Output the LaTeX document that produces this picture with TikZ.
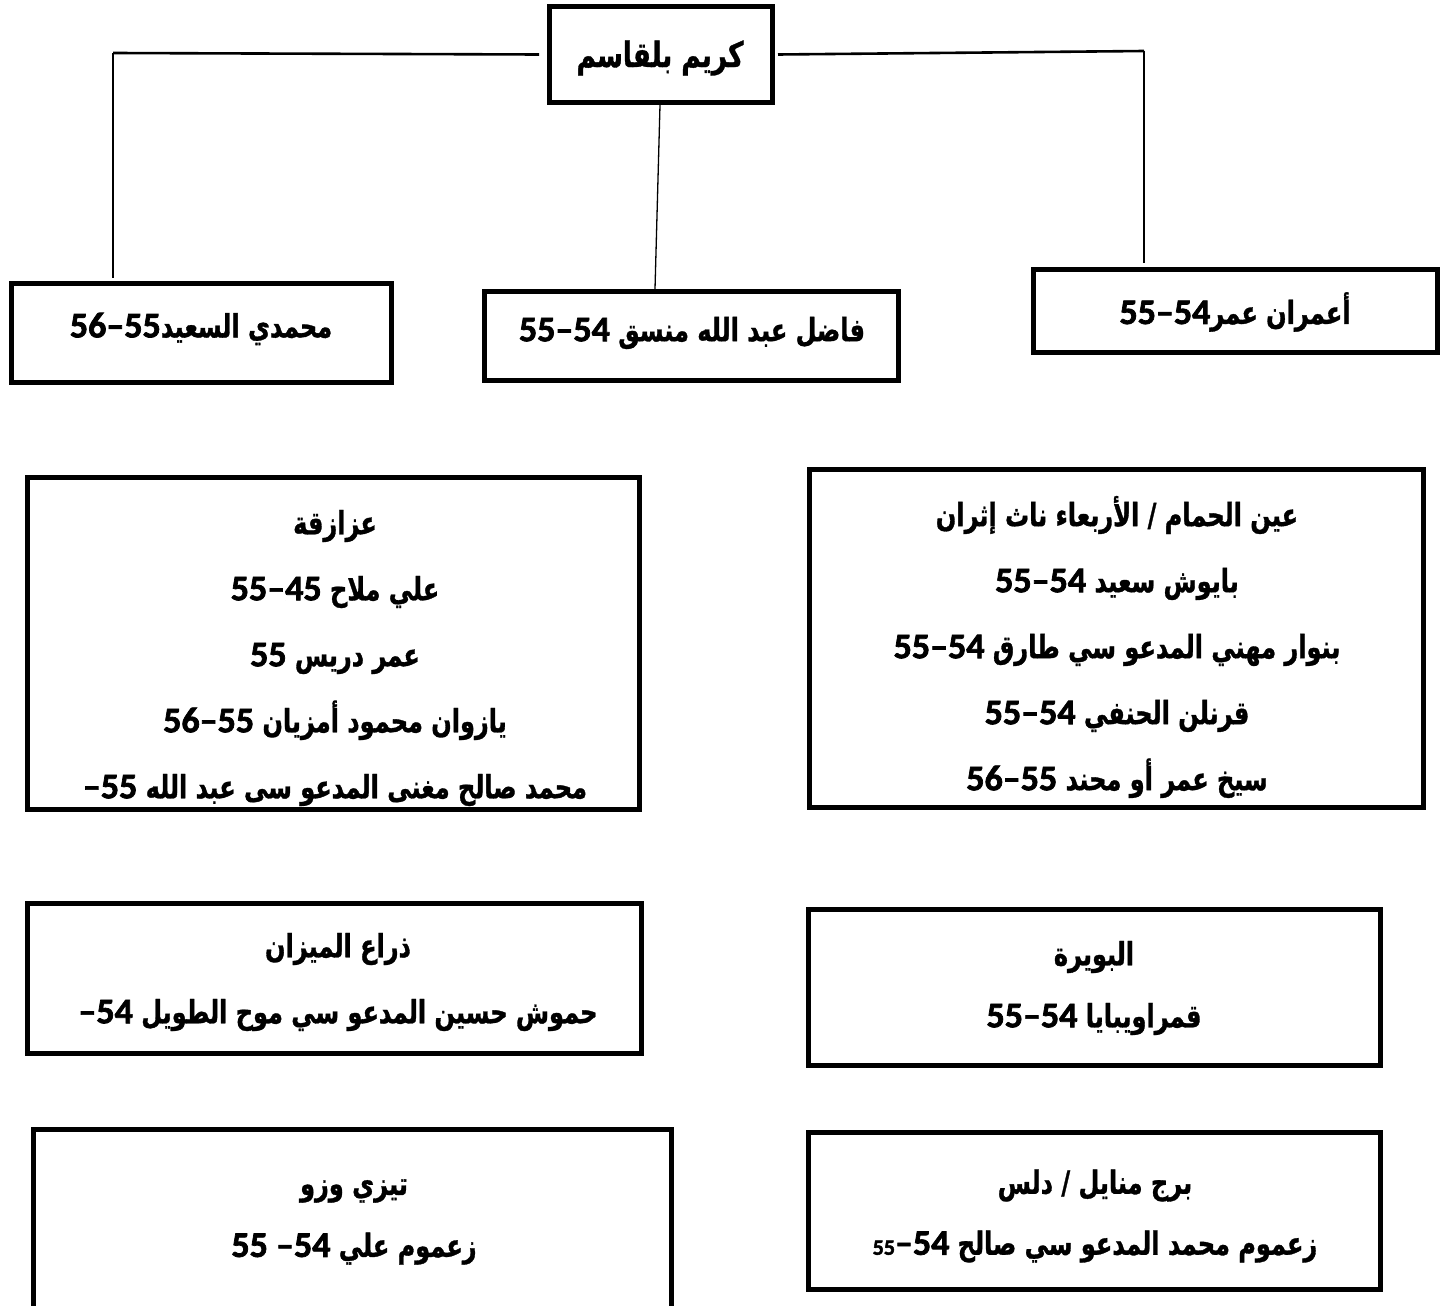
\documentclass[tikz,border=0pt]{standalone}
\usepackage{fontspec}
\TeXXeTstate=1
\newfontfamily\arabicfont[Script=Arabic,FakeStretch=0.75,FakeBold=1]{DejaVu Sans Bold}
\newfontfamily\digfont[FakeBold=2]{Carlito Bold}
\newcommand\rl[1]{\beginR#1\endR}
\newcommand\lt[1]{\beginL{\digfont\fontsize{36}{40}\selectfont #1}\endL{}}
\begin{document}
\begin{tikzpicture}[x=1pt,y=-1pt,
  box/.style={draw=black,line width=5pt,inner sep=0pt,rectangle},
  txt/.style={align=center,inner sep=0pt,font=\arabicfont\fontsize{32}{66}\selectfont},
  hconn/.style={draw=black,line width=2.6pt},
  vconn/.style={draw=black,line width=1.3pt}]
\useasboundingbox (0,0) rectangle (1444,1306);
% top row boxes
\node[box,minimum width=223pt,minimum height=96pt] (top) at (661,54.5) {};
\node[box,minimum width=380pt,minimum height=99pt] (b1) at (201.5,333) {};
\node[box,minimum width=414pt,minimum height=89pt] (b2) at (691.5,336) {};
\node[box,minimum width=404pt,minimum height=83pt] (b3) at (1235.5,311) {};
% lower boxes
\node[box,minimum width=612pt,minimum height=332pt] (c1) at (333.5,643.5) {};
\node[box,minimum width=614pt,minimum height=338pt] (c2) at (1116.5,638.5) {};
\node[box,minimum width=614pt,minimum height=150pt] (d1) at (334.5,978.5) {};
\node[box,minimum width=572pt,minimum height=156pt] (d2) at (1094.5,987.5) {};
\node[box,minimum width=638pt,minimum height=190pt] (e1) at (352.5,1224.75) {};
\node[box,minimum width=572pt,minimum height=157pt] (e2) at (1094.5,1211) {};
% texts
\node[txt,font=\arabicfont\fontsize{35}{66}\selectfont] (topt) at (660,58) {\rl{كريم بلقاسم}};
\node[txt] (b1t) at (201,329) {\rl{محمدي السعيد\lt{56–55}}};
\node[txt] (b2t) at (692,333) {\rl{فاضل عبد الله منسق \lt{55–54}}};
\node[txt] (b3t) at (1235,312) {\rl{أعمران عمر\lt{55–54}}};
\node[txt] (c1t) at (335,658) {\rl{عزازقة}\\
  \rl{علي ملاح \lt{55–45}}\\
  \rl{عمر دريس \lt{55}}\\
  \rl{يازوان محمود أمزيان \lt{56–55}}\\
  \rl{محمد صالح مغنى المدعو سى عبد الله \lt{–55}}};
\node[txt] (c2t) at (1117,647) {\rl{عين الحمام / الأربعاء ناث إثران}\\
  \rl{بايوش سعيد \lt{55–54}}\\
  \rl{بنوار مهني المدعو سي طارق \lt{55–54}}\\
  \rl{قرنلن الحنفي \lt{55–54}}\\
  \rl{سيخ عمر أو محند \lt{56–55}}};
\node[txt] (d1t) at (338,982) {\rl{ذراع الميزان}\\
  \rl{حموش حسين المدعو سي موح الطويل \lt{–54}}};
\node[txt,font=\arabicfont\fontsize{32}{62}\selectfont] (d2t) at (1094,988) {\rl{البويرة}\\
  \rl{قمراويبايا \lt{55–54}}};
\node[txt,font=\arabicfont\fontsize{32}{62}\selectfont] (e1t) at (354,1222) {\rl{تيزي وزو}\\
  \rl{زعموم علي \lt{55 –54}}};
\node[txt,font=\arabicfont\fontsize{32}{61}\selectfont] (e2t) at (1095,1216) {\rl{برج منايل / دلس}\\
  \rl{زعموم محمد المدعو سي صالح \lt{{\fontsize{22}{24}\selectfont 55}–54}}};
% connectors
\coordinate (jl) at (113,53);
\coordinate (jr) at (1144,51);
\draw[hconn] ([xshift=-8pt]top.west) -- (jl);
\draw[vconn] (jl) -- ([yshift=3pt]jl |- b1.north);
\draw[hconn] ([xshift=3pt]top.east) -- (jr);
\draw[vconn] (jr) -- ([yshift=4pt]jr |- b3.north);
\draw[vconn] ([xshift=-1pt]top.south) -- ([xshift=-36.5pt]b2.north);
\end{tikzpicture}
\end{document}
